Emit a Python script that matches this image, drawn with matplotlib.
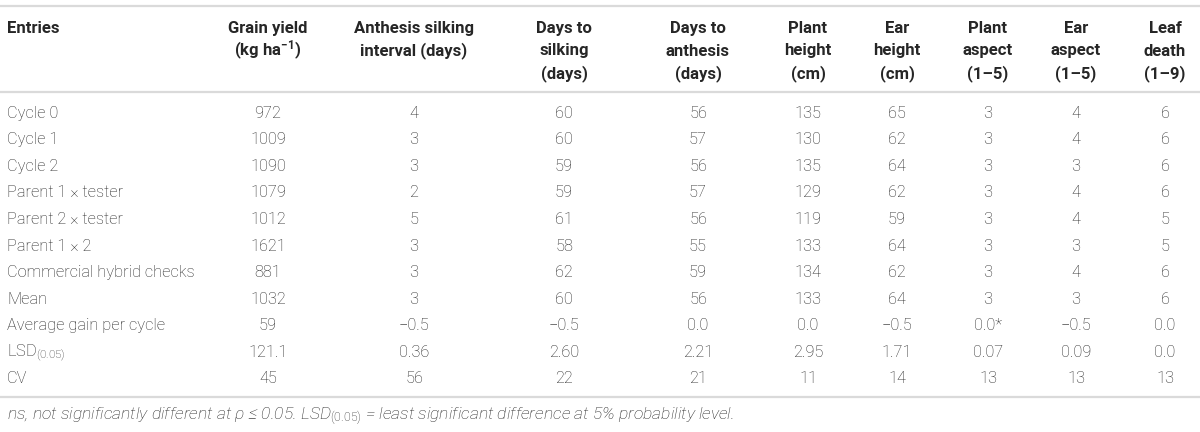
import matplotlib.pyplot as plt

plt.rcParams['font.family'] = ['Roboto', 'DejaVu Sans']
plt.rcParams['mathtext.fontset'] = 'custom'
plt.rcParams['mathtext.rm'] = 'Roboto:light'
plt.rcParams['mathtext.it'] = 'Roboto:light:italic'
plt.rcParams['mathtext.bf'] = 'Roboto:bold'

headers = ['Entries',
           'Grain yield\n(kg ha$\\mathbf{^{-1}}$)',
           'Anthesis silking\ninterval (days)',
           'Days to\nsilking\n(days)',
           'Days to\nanthesis\n(days)',
           'Plant\nheight\n(cm)',
           'Ear\nheight\n(cm)',
           'Plant\naspect\n(1–5)',
           'Ear\naspect\n(1–5)',
           'Leaf\ndeath\n(1–9)']

entries = ['Cycle 0', 'Cycle 1', 'Cycle 2', 'Parent 1 × tester', 'Parent 2 × tester',
           'Parent 1 × 2', 'Commercial hybrid checks', 'Mean', 'Average gain per cycle',
           'LSD$_{(0.05)}$', 'CV']

grain_yield = ['972', '1009', '1090', '1079', '1012', '1621', '881', '1032', '59', '121.1', '45']
asi = ['4', '3', '3', '2', '5', '3', '3', '3', '−0.5', '0.36', '56']
days_silking = ['60', '60', '59', '59', '61', '58', '62', '60', '−0.5', '2.60', '22']
days_anthesis = ['56', '57', '56', '57', '56', '55', '59', '56', '0.0', '2.21', '21']
plant_height = ['135', '130', '135', '129', '119', '133', '134', '133', '0.0', '2.95', '11']
ear_height = ['65', '62', '64', '62', '59', '64', '62', '64', '−0.5', '1.71', '14']
plant_aspect = ['3', '3', '3', '3', '3', '3', '3', '3', '0.0*', '0.07', '13']
ear_aspect = ['4', '4', '3', '4', '4', '3', '4', '3', '−0.5', '0.09', '13']
leaf_death = ['6', '6', '6', '6', '5', '5', '6', '6', '0.0', '0.0', '13']

columns = [grain_yield, asi, days_silking, days_anthesis, plant_height,
           ear_height, plant_aspect, ear_aspect, leaf_death]

footnote = ('ns, not significantly different at ρ ≤ 0.05. LSD$_{(0.05)}$ = '
            'least significant difference at 5% probability level.')

col_x = [268, 414, 564, 698, 808, 897, 988, 1076, 1165]
row_y0 = 112
row_h = 26.55

fig = plt.figure(figsize=(12, 4.32), dpi=100)
ax = fig.add_axes([0, 0, 1, 1])
ax.set_xlim(0, 1200)
ax.set_ylim(432, 0)
ax.axis('off')

line_c = '#dadada'
for y in [6, 91.5, 397]:
    ax.plot([0, 1200], [y, y], color=line_c, lw=1.6, solid_capstyle='butt')

txt_c = '#262626'
hfs = 12
# header, one line at a time
for j, h in enumerate(headers):
    for k, part in enumerate(h.split('\n')):
        yb = 33 + k * 22.5
        if j == 0:
            ax.text(7, yb, part, ha='left', va='baseline', fontsize=hfs,
                    fontweight='bold', color=txt_c)
        else:
            ax.text(col_x[j - 1], yb, part, ha='center', va='baseline', fontsize=hfs,
                    fontweight='bold', color=txt_c)

bfs = 11.8
for i, e in enumerate(entries):
    yb = row_y0 + i * row_h + 5.8
    ax.text(7, yb, e, ha='left', va='baseline', fontsize=bfs, fontweight='light', color=txt_c)
    for x, col in zip(col_x, columns):
        ax.text(x, yb, col[i], ha='center', va='baseline', fontsize=bfs,
                fontweight='light', color=txt_c)

ax.text(7, 419, footnote, ha='left', va='baseline', fontsize=12.6, fontweight='light',
        style='italic', color=txt_c)

fig.savefig('out.png', dpi=100)
